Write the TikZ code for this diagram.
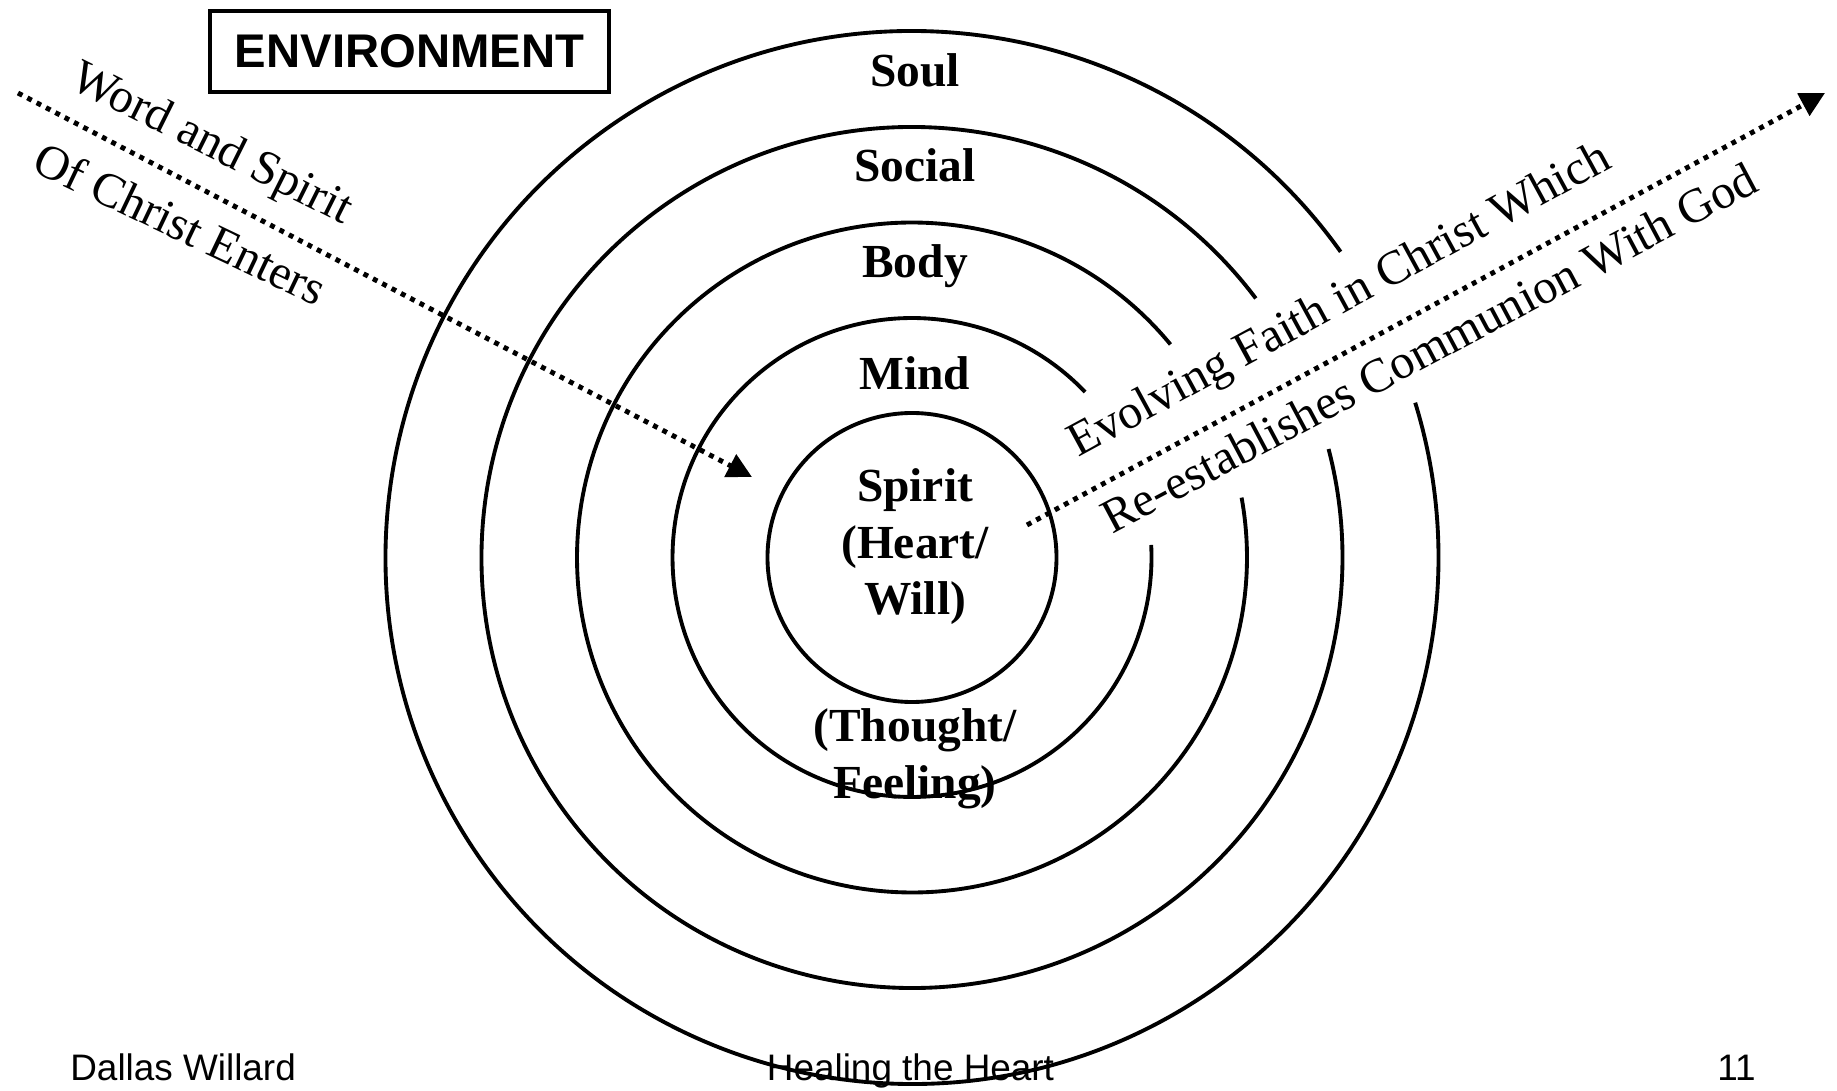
\documentclass[tikz,border=0pt]{standalone}
\usepackage{fontspec}
\setmainfont{Liberation Serif}
\newfontfamily\arialf{Liberation Sans}
\usetikzlibrary{arrows.meta}
\tikzset{
  ring/.style={line width=2.2pt, line cap=butt},
  lbl/.style={font=\fontsize{27}{32}\selectfont\bfseries, inner sep=0pt, anchor=base},
  slant/.style={font=\fontsize{27.5}{32}\selectfont, inner sep=0pt, anchor=base west},
  foot/.style={font=\arialf\fontsize{21}{24}\selectfont, inner sep=0pt},
  dotarrow/.style={line width=2.8pt, dash pattern=on 2.8pt off 3.2pt, -{Triangle[length=14pt,width=14pt]}},
}
\begin{document}
\begin{tikzpicture}[x=0.02cm,y=0.02cm]
\useasboundingbox (0,0) rectangle (1837,1090);
\coordinate (C) at (912,532.5);
% circles with gaps
\draw[ring] (C) ++(35.5:526.5) arc[start angle=35.5, end angle=377.1, radius=526.5];
\draw[ring] (C) ++(37:430.5) arc[start angle=37, end angle=374.6, radius=430.5];
\draw[ring] (C) ++(39.5:335) arc[start angle=39.5, end angle=370.3, radius=335];
\draw[ring] (C) ++(43.7:239.5) arc[start angle=43.7, end angle=363, radius=239.5];
\draw[ring] (C) circle[radius=144.5];
% environment box
\node[draw, line width=2.2pt, minimum width=7.98cm, minimum height=1.62cm, inner sep=0pt,
      font=\arialf\fontsize{26.9}{30}\selectfont\bfseries] (env) at (409.5,1038.5) {ENVIRONMENT};
% ring labels
\node[lbl] (soul) at (915,1003) {Soul};
\node[lbl] (social) at (915,908) {Social};
\node[lbl] (body) at (915,812) {Body};
\node[lbl] (mind) at (915,700) {Mind};
\node[lbl] (spirit1) at (915,588) {Spirit};
\node[lbl] (spirit2) at (915,531) {(Heart/};
\node[lbl] (spirit3) at (915,475) {Will)};
\node[lbl] (thought1) at (915,348.3) {(Thought/};
\node[lbl] (thought2) at (915,292) {Feeling)};
% slanted texts
\node[slant, rotate=-26.5] (word) at (68,1003) {Word and Spirit};
\node[slant, rotate=-25.5] (ofchrist) at (30,920) {Of Christ Enters};
\node[slant, rotate=28.5] (evolving) at (1078,632) {Evolving Faith in Christ Which};
\node[slant, rotate=28] (reest) at (1112,555) {Re-establishes Communion With God};
% arrows
\coordinate (wS) at (18,997);
\coordinate (wE) at (752,613);
\coordinate (fS) at (1027,565);
\coordinate (fE) at (1825,997);
\draw[dotarrow] (wS) -- (wE);
\draw[dotarrow] (fS) -- (fE);
% footer
\node[foot, anchor=base west] (author) at (70,10) {Dallas Willard};
\node[foot, anchor=base] (title) at (910.5,10) {Healing the Heart};
\node[foot, anchor=base east] (page) at (1756,10) {11};
\end{tikzpicture}
\end{document}
